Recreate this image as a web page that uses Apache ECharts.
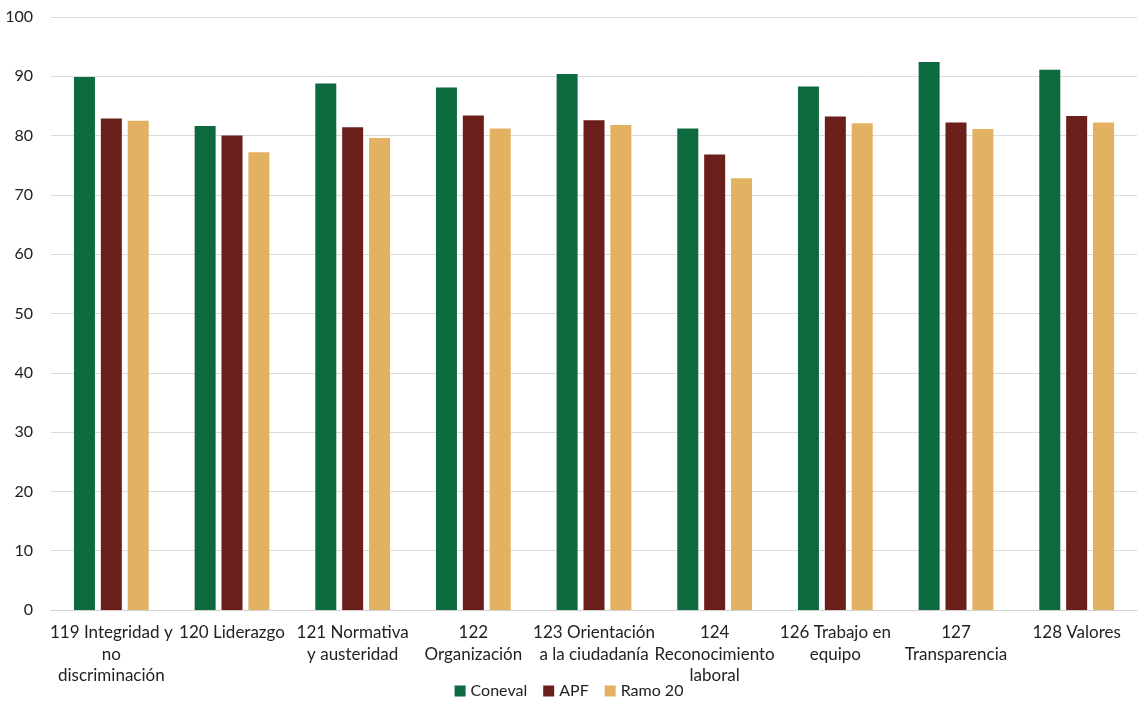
<!DOCTYPE html>
<html><head><meta charset="utf-8">
<script src="https://cdn.jsdelivr.net/npm/echarts@6/dist/echarts.min.js"></script>
<style>html,body{margin:0;padding:0;background:#fff}#c{width:1138px;height:708px}</style>
</head><body><div id="c"></div>
<script>
const categories = ["119 Integridad y\nno\ndiscriminación","120 Liderazgo","121 Normativa\ny austeridad","122\nOrganización","123 Orientación\na la ciudadanía","124\nReconocimiento\nlaboral","126 Trabajo en\nequipo","127\nTransparencia","128 Valores"];
const coneval = [89.9, 81.6, 88.8, 88.1, 90.4, 81.2, 88.3, 92.4, 91.1];
const apf     = [82.9, 80.0, 81.4, 83.4, 82.6, 76.8, 83.2, 82.2, 83.3];
const ramo20  = [82.5, 77.2, 79.6, 81.2, 81.8, 72.8, 82.1, 81.1, 82.2];
const yTicks = {min:0, max:100, interval:10};

const font = 'Lato, "Open Sans", sans-serif';
const chart = echarts.init(document.getElementById('c'));
chart.setOption({
  animation:false,
  textStyle:{fontFamily:font},
  grid:{left:51, right:1, top:17, bottom:98, containLabel:false},
  legend:{bottom:4, left:'center', itemWidth:11, itemHeight:11, itemGap:16, icon:'rect',
    textStyle:{fontSize:16, color:'#222', fontFamily:font},
    data:['Coneval','APF','Ramo 20']},
  xAxis:{type:'category', data:categories,
    axisLine:{lineStyle:{color:'#d0d0d0'}}, axisTick:{show:false},
    axisLabel:{interval:0, fontSize:17, color:'#222', lineHeight:21.5, margin:12, fontFamily:font}},
  yAxis:{type:'value', min:yTicks.min, max:yTicks.max, interval:yTicks.interval,
    axisLine:{show:false}, axisTick:{show:false},
    splitLine:{lineStyle:{color:'#dcdcdc'}},
    axisLabel:{fontSize:16, color:'#222', margin:18, fontFamily:font}},
  series:[
    {name:'Coneval', type:'bar', data:coneval, barWidth:21, barGap:'28%', itemStyle:{color:'#0d6a3e'}},
    {name:'APF', type:'bar', data:apf, barWidth:21, barGap:'28%', itemStyle:{color:'#6a1f1b'}},
    {name:'Ramo 20', type:'bar', data:ramo20, barWidth:21, barGap:'28%', itemStyle:{color:'#e2b262'}}
  ]
});
</script></body></html>
